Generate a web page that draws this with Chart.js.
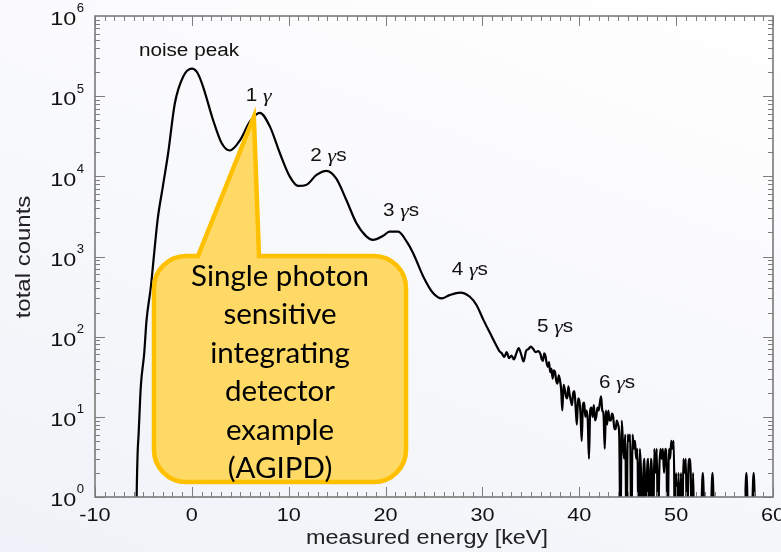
<!DOCTYPE html>
<html>
<head>
<meta charset="utf-8">
<script src="https://cdn.jsdelivr.net/npm/chart.js@4.4.1/dist/chart.umd.min.js"></script>
<style>
    html, body { margin: 0; padding: 0; }
    body {
        width: 781px; height: 552px; overflow: hidden;
        background: linear-gradient(200deg, #ffffff 0%, #f7f8fb 55%, #eff2f8 100%);
    }
    canvas { display: block; }
</style>
</head>
<body>
<canvas id="spectrumChart" width="781" height="552"></canvas>
<script>
// measured energy [keV] and histogram counts (0 = empty bin)
const energy = [
    -6.0, -5.75, -5.7, -5.6, -5.5, -5.27, -4.92, -4.68, -4.23, -3.89, -3.54, -3.0, -2.45, -1.76, -0.9,
    0.0, 0.6, 1.17, 2.2, 3.07, 3.92, 4.96, 5.99, 7.02, 8.05, 9.09, 10.1, 10.98, 11.8, 12.87,
    13.9, 14.9, 15.97, 17.0, 18.04, 18.7, 19.75, 20.4, 21.3, 22.2, 22.85, 23.9, 24.9, 25.8,
    26.6, 27.7, 28.7, 29.4, 30.1, 30.8, 31.5,
    31.75, 32.0, 32.25, 32.5, 32.75, 33.0, 33.25, 33.5, 33.75, 34.0, 34.25, 34.5, 34.75,
    35.0, 35.25, 35.5, 35.75,
    36.0, 36.125, 36.25, 36.375, 36.5, 36.625, 36.75, 36.875, 37.0, 37.125, 37.25, 37.375,
    37.5, 37.625, 37.75, 37.875, 38.0, 38.125, 38.25, 38.375, 38.5, 38.625, 38.75, 38.875,
    39.0, 39.125, 39.25, 39.375, 39.5, 39.625, 39.75, 39.875, 40.0, 40.125, 40.25, 40.375,
    40.5, 40.625, 40.75, 40.875, 41.0, 41.125, 41.25, 41.375, 41.5, 41.625, 41.75, 41.875,
    42.0, 42.125, 42.25, 42.375, 42.5, 42.625, 42.75, 42.875, 43.0, 43.125, 43.25, 43.375,
    43.5, 43.625, 43.75, 43.875,
    44.0, 44.125, 44.25, 44.375, 44.5, 44.625, 44.75, 44.875, 45.0, 45.125, 45.25, 45.375,
    45.5, 45.625, 45.75, 45.875, 46.0, 46.125, 46.25, 46.375, 46.5, 46.625, 46.75, 46.875,
    47.0, 47.125, 47.25, 47.375, 47.5, 47.625, 47.75, 47.875, 48.0, 48.125, 48.25, 48.375,
    48.5, 48.625, 48.75, 48.875, 49.0, 49.125, 49.25, 49.375, 49.5, 49.625, 49.75, 49.875,
    50.0, 50.125, 50.25, 50.375, 50.5, 50.625, 50.75, 50.875, 51.0, 51.125, 51.25, 51.375,
    51.5, 51.625, 51.75, 51.875, 52.0, 52.5, 52.75, 53.0,
    53.5, 53.75, 54.0, 57.0, 57.25, 57.5, 57.75, 58.0, 58.25, 60.0
];
const counts = [
    0, 0, 1, 3.5, 6, 24, 62, 160, 420, 1100, 2850, 7400, 19400, 81000, 175000,
    220000, 193000, 130000, 50000, 26000, 21000, 28000, 48000, 62000, 42000, 19400, 10000, 7600, 7800, 10400,
    11700, 9400, 5000, 2600, 1770, 1610, 1810, 2040, 2040, 1520, 1100, 560, 350, 300,
    330, 355, 315, 247, 162, 110, 75,
    66, 62, 56, 64, 54, 58, 52, 62, 72, 60, 49, 66, 70,
    75, 70, 64, 66,
    60, 52, 50, 62, 58, 47, 42, 48, 36, 40, 30, 38,
    36, 28, 26, 33, 29, 22, 12, 25, 22, 18, 17, 24,
    19, 16, 14, 20, 21, 13, 8, 17, 16, 11, 5, 14,
    15, 10, 12, 9, 3, 12, 13, 10, 14, 9, 10, 13,
    12, 15, 18, 12, 11, 4, 12, 8, 12, 9, 9, 11,
    10, 7, 7, 9,
    8, 6, 0, 9, 5, 3, 6, 0, 6, 5, 6, 0,
    6, 4, 5, 3, 4, 0, 4, 2, 0, 2, 3, 0,
    2, 3, 0, 3, 2, 0, 4, 2, 4, 0, 2, 4,
    3, 4, 2, 4, 3, 0, 4, 3, 5, 4, 5, 0,
    2, 0, 2, 0, 2, 0, 3, 2, 3, 0, 2, 3,
    2, 0, 2, 0, 0, 0, 2, 0,
    0, 2, 0, 0, 2, 0, 0, 2, 0, 0
];

const xTicks = [-10, 0, 10, 20, 30, 40, 50, 60];
const yDecades = [0, 1, 2, 3, 4, 5, 6];

// peak annotations: label text, suffix after gamma, energy / counts at label centre
const peakNames = ["noise peak", "1", "2", "3", "4", "5", "6"];
const peakSuffix = ["", "", "s", "s", "s", "s", "s"];
const peakLabelX = [-0.3, 6.9, 14.1, 21.6, 28.7, 37.5, 43.9];
const peakLabelY = [3.7e5, 1.0e5, 1.8e4, 3.7e3, 6.8e2, 1.32e2, 2.65e1];

const calloutLines = ["Single photon", "sensitive", "integrating", "detector", "example", "(AGIPD)"];

const SANS = "'Liberation Sans', Arial, Helvetica, sans-serif";
const SERIF_IT = "italic 19px 'Liberation Serif', 'DejaVu Serif', serif";

// the original figure is stretched sideways, so text gets a horizontal scale
function wideText(ctx, text, x, y, stretch, align) {
    ctx.save();
    ctx.translate(x, y);
    ctx.scale(stretch, 1);
    ctx.textAlign = align;
    ctx.fillText(text, 0, 0);
    ctx.restore();
}

const axesFrame = {
    id: "axesFrame",
    afterDatasetsDraw(chart) {
        const { ctx, chartArea: a, scales: { x, y } } = chart;
        ctx.save();
        ctx.strokeStyle = "#7d7d7d";
        ctx.lineWidth = 1;

        function seg(x1, y1, x2, y2) {
            ctx.beginPath();
            ctx.moveTo(x1, y1);
            ctx.lineTo(x2, y2);
            ctx.stroke();
        }

        // inward ticks, x
        for (let v = xTicks[0]; v <= xTicks[xTicks.length - 1]; v++) {
            const px = Math.round(x.getPixelForValue(v)) + 0.5;
            const len = v % 10 === 0 ? 10 : 5;
            seg(px, a.bottom, px, a.bottom - len);
            seg(px, a.top, px, a.top + len);
        }
        // inward ticks, y (decades + 2..9)
        for (let d = 0; d < yDecades.length - 1; d++) {
            for (let m = 1; m <= 9; m++) {
                const py = Math.round(y.getPixelForValue(m * Math.pow(10, d))) + 0.5;
                const len = m === 1 ? 10 : 5;
                seg(a.left, py, a.left + len, py);
                seg(a.right, py, a.right - len, py);
            }
        }

        ctx.lineWidth = 1.6;
        ctx.strokeStyle = "#7a7a7a";
        ctx.strokeRect(a.left, a.top, a.right - a.left, a.bottom - a.top);

        // tick labels
        ctx.fillStyle = "#111";
        ctx.textBaseline = "middle";
        ctx.font = "19px " + SANS;
        xTicks.forEach(v => wideText(ctx, String(v), x.getPixelForValue(v), a.bottom + 19, 1.14, "center"));

        yDecades.forEach(d => {
            const py = y.getPixelForValue(Math.pow(10, d));
            ctx.font = "12.5px " + SANS;
            const supW = ctx.measureText(String(d)).width * 1.05;
            wideText(ctx, String(d), a.left - 11, py - 7, 1.05, "right");
            ctx.font = "19px " + SANS;
            wideText(ctx, "10", a.left - 11 - supW - 0.5, py + 4, 1.23, "right");
        });

        // axis titles
        ctx.fillStyle = "#222";
        ctx.font = "20px " + SANS;
        wideText(ctx, "measured energy [keV]", 427, a.bottom + 41, 1.17, "center");
        ctx.save();
        ctx.translate(24, 257);
        ctx.rotate(-Math.PI / 2);
        ctx.scale(1.2, 1);
        ctx.textAlign = "center";
        ctx.fillText("total counts", 0, 0);
        ctx.restore();

        // peak labels
        ctx.fillStyle = "#111";
        peakNames.forEach((name, i) => {
            const cx = x.getPixelForValue(peakLabelX[i]);
            const cy = y.getPixelForValue(peakLabelY[i]);
            if (i === 0) {
                ctx.font = "18px " + SANS;
                wideText(ctx, name, cx, cy, 1.15, "center");
                return;
            }
            const k = 1.15;
            const head = name + " ";
            ctx.font = "18px " + SANS;
            const wHead = ctx.measureText(head).width * k;
            const wTail = ctx.measureText(peakSuffix[i]).width * k;
            ctx.font = SERIF_IT;
            const wG = ctx.measureText("\u03b3").width * k;
            let px = cx - (wHead + wG + wTail) / 2;
            ctx.font = "18px " + SANS;
            wideText(ctx, head, px, cy, k, "left");
            px += wHead;
            ctx.font = SERIF_IT;
            wideText(ctx, "\u03b3", px, cy + 1, k, "left");
            px += wG;
            ctx.font = "18px " + SANS;
            wideText(ctx, peakSuffix[i], px, cy, k, "left");
        });
        ctx.restore();
    }
};

const callout = {
    id: "callout",
    afterDraw(chart) {
        const { ctx, scales: { x, y } } = chart;
        const left = 154, right = 406, top = 256, bottom = 482, r = 32;
        const baseL = 198, baseR = 259;
        const tipX = x.getPixelForValue(6.4), tipY = y.getPixelForValue(5.5e4);
        ctx.save();
        ctx.beginPath();
        ctx.moveTo(left + r, top);
        ctx.lineTo(baseL, top);
        ctx.lineTo(tipX, tipY);
        ctx.lineTo(baseR, top);
        ctx.lineTo(right - r, top);
        ctx.arcTo(right, top, right, top + r, r);
        ctx.lineTo(right, bottom - r);
        ctx.arcTo(right, bottom, right - r, bottom, r);
        ctx.lineTo(left + r, bottom);
        ctx.arcTo(left, bottom, left, bottom - r, r);
        ctx.lineTo(left, top + r);
        ctx.arcTo(left, top, left + r, top, r);
        ctx.closePath();
        ctx.fillStyle = "#ffd966";
        ctx.fill();
        ctx.lineWidth = 4.5;
        ctx.lineJoin = "miter";
        ctx.strokeStyle = "#ffc000";
        ctx.stroke();

        ctx.fillStyle = "#000";
        ctx.textAlign = "center";
        ctx.textBaseline = "middle";
        ctx.font = "29.5px Lato, 'Open Sans', sans-serif";
        calloutLines.forEach((t, i) => ctx.fillText(t, 280, 276 + i * 38.5));
        ctx.restore();
    }
};

new Chart(document.getElementById("spectrumChart"), {
    type: "line",
    data: {
        datasets: [{
            data: energy.map((e, i) => ({ x: e, y: counts[i] > 0 ? counts[i] : 0.3 })),
            borderColor: "#000",
            borderWidth: 2.2,
            pointRadius: 0,
            cubicInterpolationMode: "monotone",
            fill: false
        }]
    },
    options: {
        responsive: false,
        animation: false,
        layout: { padding: { left: 95, right: 8, top: 16, bottom: 55 } },
        plugins: {
            legend: { display: false },
            tooltip: { enabled: false }
        },
        scales: {
            x: { type: "linear", min: -10, max: 60, display: false },
            y: { type: "logarithmic", min: 1, max: 1e6, display: false }
        }
    },
    plugins: [axesFrame, callout]
});
</script>
</body>
</html>
